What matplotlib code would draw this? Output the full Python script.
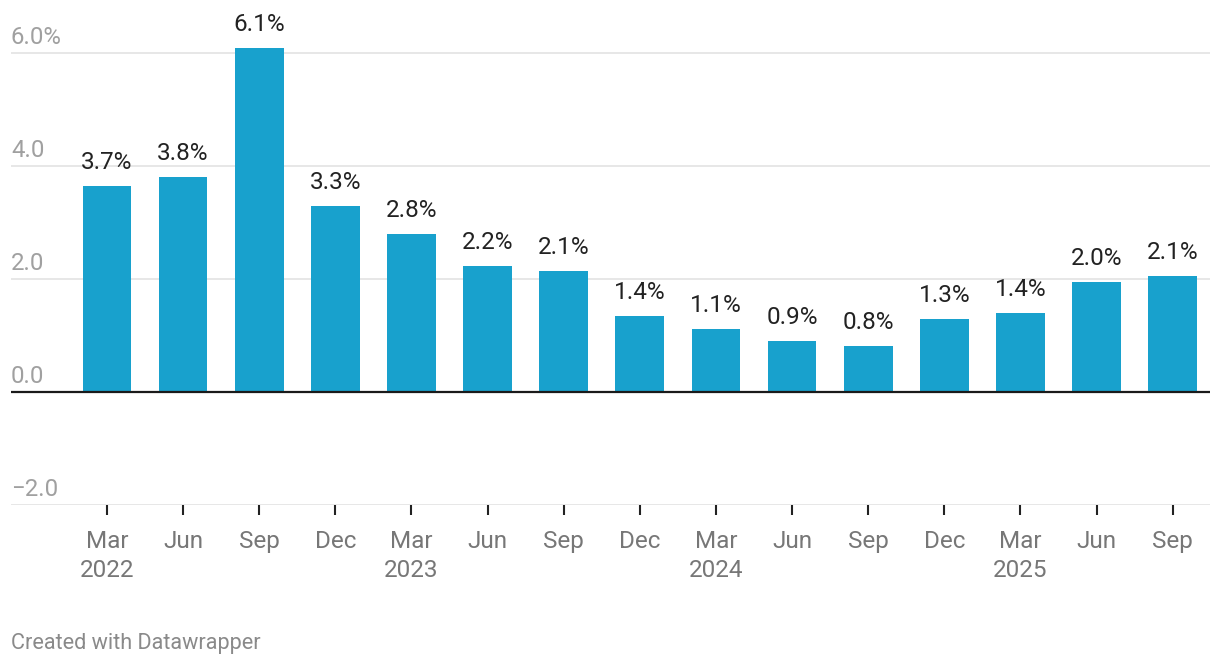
import matplotlib
matplotlib.use("Agg")
import matplotlib.pyplot as plt

months = ["Mar", "Jun", "Sep", "Dec", "Mar", "Jun", "Sep", "Dec", "Mar", "Jun", "Sep", "Dec", "Mar", "Jun", "Sep"]
years = ["2022", "", "", "", "2023", "", "", "", "2024", "", "", "", "2025", "", ""]
values = [3.65, 3.81, 6.09, 3.29, 2.80, 2.23, 2.14, 1.35, 1.12, 0.90, 0.81, 1.29, 1.40, 1.95, 2.05]
labels = ["3.7%", "3.8%", "6.1%", "3.3%", "2.8%", "2.2%", "2.1%", "1.4%", "1.1%", "0.9%", "0.8%", "1.3%", "1.4%", "2.0%", "2.1%"]
yticks = [-2.0, 0.0, 2.0, 4.0, 6.0]
ytick_labels = ["\u22122.0", "0.0", "2.0", "4.0", "6.0%"]

plt.rcParams['font.family'] = ['Roboto', 'DejaVu Sans']

W, H = 1220, 668
fig = plt.figure(figsize=(W / 100, H / 100), dpi=100)
ax = fig.add_axes([11 / W, (H - 505) / H, 1199 / W, 465 / H])

x = list(range(len(values)))
ax.bar(x, values, width=0.64, color="#18a1cd", zorder=2)
ax.set_xlim(-1.26, 14.49)
ax.set_ylim(-2.0, 6.23)

for yv in yticks:
    if yv == 0:
        ax.axhline(0, color="#1a1a1a", lw=1.6, zorder=3)
    else:
        ax.axhline(yv, color="#e3e3e3", lw=1.2, zorder=1)

for yv, lab in zip(yticks, ytick_labels):
    ax.annotate(lab, xy=(0, yv), xycoords=("axes fraction", "data"),
                xytext=(0, 3), textcoords="offset points",
                ha="left", va="bottom", fontsize=17.3, color="#a0a0a0")

for xi, v, lab in zip(x, values, labels):
    ax.annotate(lab, xy=(xi, v), xytext=(0, 8.5), textcoords="offset points",
                ha="center", va="bottom", fontsize=17.5, color="#222222",
                zorder=4, annotation_clip=False)

for s in ax.spines.values():
    s.set_visible(False)
ax.set_yticks([])
ax.set_xticks(x)
ax.set_xticklabels([m + ("\n" + y if y else "") for m, y in zip(months, years)],
                   fontsize=17.5, color="#777777", linespacing=1.33, va="top")
ax.tick_params(axis="x", length=7, width=1.5, color="#222222", pad=11)

fig.text(11 / W, 1 - 644 / H, "Created with Datawrapper", ha="left", va="center",
         fontsize=15.6, color="#8a8a8a")

fig.savefig("out.png", dpi=100)
